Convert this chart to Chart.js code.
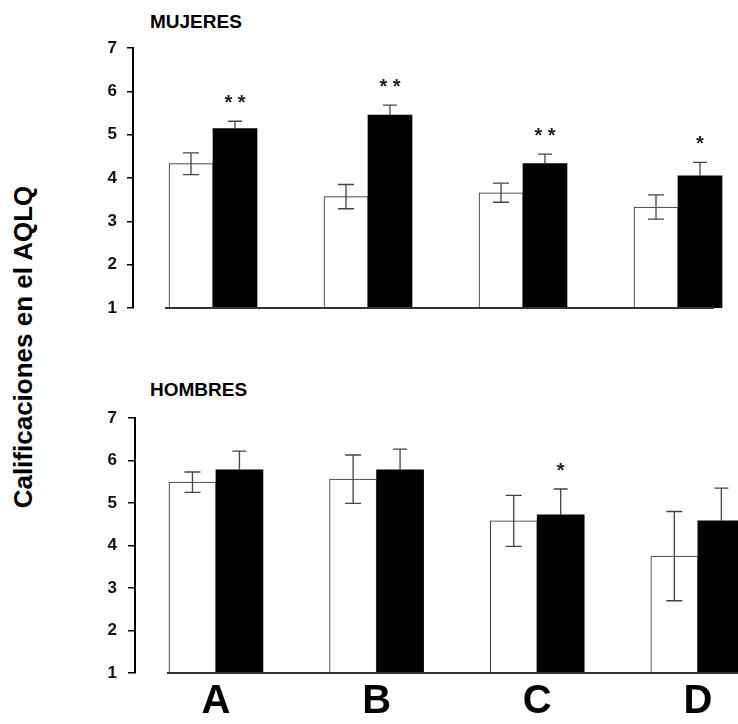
<!DOCTYPE html>
<html>
<head>
<meta charset="utf-8">
<script src="https://cdn.jsdelivr.net/npm/chart.js@4.4.1/dist/chart.umd.min.js"></script>
<style>
body { margin: 0; background: #fff; width: 738px; height: 724px; overflow: hidden; position: relative; font-family: "Liberation Sans", Arial, sans-serif; }
canvas { position: absolute; left: 0; }
#mujeres { top: 0; }
#hombres { top: 360px; }
.titulo { position: absolute; left: 150px; font-weight: bold; font-size: 19px; line-height: 19px; color: #000; }
#ylabel { position: absolute; left: -177px; top: 332px; width: 400px; height: 30px; line-height: 30px; text-align: center; font-weight: bold; font-size: 26px; color: #000; transform: rotate(-90deg); }
</style>
</head>
<body>
<div class="titulo" style="top:12px">MUJERES</div>
<div class="titulo" style="top:380px">HOMBRES</div>
<div id="ylabel">Calificaciones en el AQLQ</div>
<canvas id="mujeres" width="738" height="330"></canvas>
<canvas id="hombres" width="738" height="364"></canvas>
<script>
var categorias = ['A', 'B', 'C', 'D'];
var ticksY = [1, 2, 3, 4, 5, 6, 7];

var mujeresBlanco = [4.33, 3.57, 3.66, 3.33];
var mujeresNegro = [5.14, 5.45, 4.33, 4.05];
var errMujeresBlanco = [0.25, 0.28, 0.22, 0.28];
var errMujeresNegro = [0.17, 0.23, 0.22, 0.31];
var sigMujeres = ['* *', '* *', '* *', '*'];

var hombresBlanco = [5.49, 5.56, 4.58, 3.75];
var hombresNegro = [5.78, 5.78, 4.72, 4.58];
var errHombresBlanco = [0.24, 0.57, 0.60, 1.05];
var errHombresNegro = [0.44, 0.49, 0.61, 0.77];
var sigHombres = ['', '', '*', ''];

function puntos(valores) {
    return valores.map(function (v, i) { return { x: i, y: v }; });
}

// error bars, asterisks and the baseline, all placed through the chart scales
var extras = {
    id: 'extras',
    afterDatasetsDraw: function (chart, args, opts) {
        var ctx = chart.ctx;
        var sx = chart.scales.x, sy = chart.scales.y;
        ctx.save();
        chart.data.datasets.forEach(function (ds, di) {
            var meta = chart.getDatasetMeta(di);
            meta.data.forEach(function (bar, i) {
                var v = ds.data[i].y, e = ds.errores[i];
                var arriba = sy.getPixelForValue(v + e);
                var abajo = ds.soloArriba ? bar.y : sy.getPixelForValue(v - e);
                var cap = ds.soloArriba ? 7 : 8;
                ctx.strokeStyle = '#444';
                ctx.lineWidth = 1.3;
                ctx.beginPath();
                ctx.moveTo(bar.x, arriba); ctx.lineTo(bar.x, abajo);
                ctx.moveTo(bar.x - cap, arriba); ctx.lineTo(bar.x + cap, arriba);
                if (!ds.soloArriba) {
                    ctx.moveTo(bar.x - cap, abajo); ctx.lineTo(bar.x + cap, abajo);
                }
                ctx.stroke();
                if (ds.sig && ds.sig[i]) {
                    ctx.fillStyle = '#222';
                    ctx.font = 'bold 20px "Liberation Sans", Arial, sans-serif';
                    ctx.textAlign = 'center';
                    ctx.textBaseline = 'alphabetic';
                    ctx.fillText(ds.sig[i], bar.x, arriba - 24 + 12);
                }
            });
        });
        var y0 = sy.getPixelForValue(1);
        ctx.strokeStyle = '#333';
        ctx.lineWidth = 2;
        ctx.beginPath();
        ctx.moveTo(sx.getPixelForValue(opts.desde), y0);
        ctx.lineTo(Math.min(sx.getPixelForValue(opts.hasta), chart.chartArea.right), y0);
        ctx.stroke();
        ctx.restore();
    }
};

function crear(id, blanco, negro, errB, errN, sig, cfg) {
    var ctx = document.getElementById(id).getContext('2d');
    return new Chart(ctx, {
        type: 'bar',
        data: {
            datasets: [{
                data: puntos(blanco),
                errores: errB,
                backgroundColor: '#fff',
                borderColor: '#222',
                borderWidth: 1,
                borderSkipped: 'start'
            }, {
                data: puntos(negro),
                errores: errN,
                soloArriba: true,
                sig: sig,
                backgroundColor: '#000',
                borderWidth: 0
            }]
        },
        options: {
            responsive: false,
            animation: false,
            barThickness: cfg.grosor,
            layout: { padding: { top: cfg.arriba, bottom: cfg.abajo, left: 0, right: 0 } },
            plugins: {
                legend: { display: false },
                tooltip: { enabled: false },
                extras: { desde: cfg.desde, hasta: cfg.hasta }
            },
            scales: {
                x: {
                    type: 'linear',
                    offset: false,
                    min: cfg.xmin,
                    max: cfg.xmax,
                    display: cfg.letras,
                    afterBuildTicks: function (scale) {
                        scale.ticks = categorias.map(function (c, i) { return { value: i }; });
                    },
                    afterFit: function (scale) { scale.height = cfg.letras ? 51 : 0; },
                    grid: { display: false, drawTicks: false },
                    border: { display: false },
                    ticks: {
                        autoSkip: false,
                        maxRotation: 0,
                        padding: 5,
                        color: '#000',
                        font: { family: '"Liberation Sans", Arial, sans-serif', size: 40, weight: 'bold' },
                        callback: function (v) { return categorias[v]; }
                    }
                },
                y: {
                    min: 1,
                    max: 7,
                    afterBuildTicks: function (scale) {
                        scale.ticks = ticksY.map(function (t) { return { value: t }; });
                    },
                    afterFit: function (scale) { scale.width = cfg.eje; },
                    border: { display: true, color: '#000', width: 2 },
                    grid: { display: true, drawOnChartArea: false, drawTicks: true, tickLength: cfg.marca, color: '#000', lineWidth: 1.5 },
                    ticks: {
                        padding: cfg.sep,
                        color: '#111',
                        font: { family: '"Liberation Sans", Arial, sans-serif', size: 17, weight: 'bold' }
                    }
                }
            }
        },
        plugins: [extras]
    });
}

crear('mujeres', mujeresBlanco, mujeresNegro, errMujeresBlanco, errMujeresNegro, sigMujeres, {
    grosor: 44, arriba: 48, abajo: 22, xmin: -0.516, xmax: 3.387, letras: false,
    eje: 133, marca: 6, sep: 10, desde: -0.31, hasta: 3.23
});
crear('hombres', hombresBlanco, hombresNegro, errHombresBlanco, errHombresNegro, sigHombres, {
    grosor: 47, arriba: 58, abajo: 0, xmin: -0.504, xmax: 3.25, letras: true,
    eje: 135, marca: 7, sep: 11, desde: -0.305, hasta: 3.3
});
</script>
</body>
</html>
